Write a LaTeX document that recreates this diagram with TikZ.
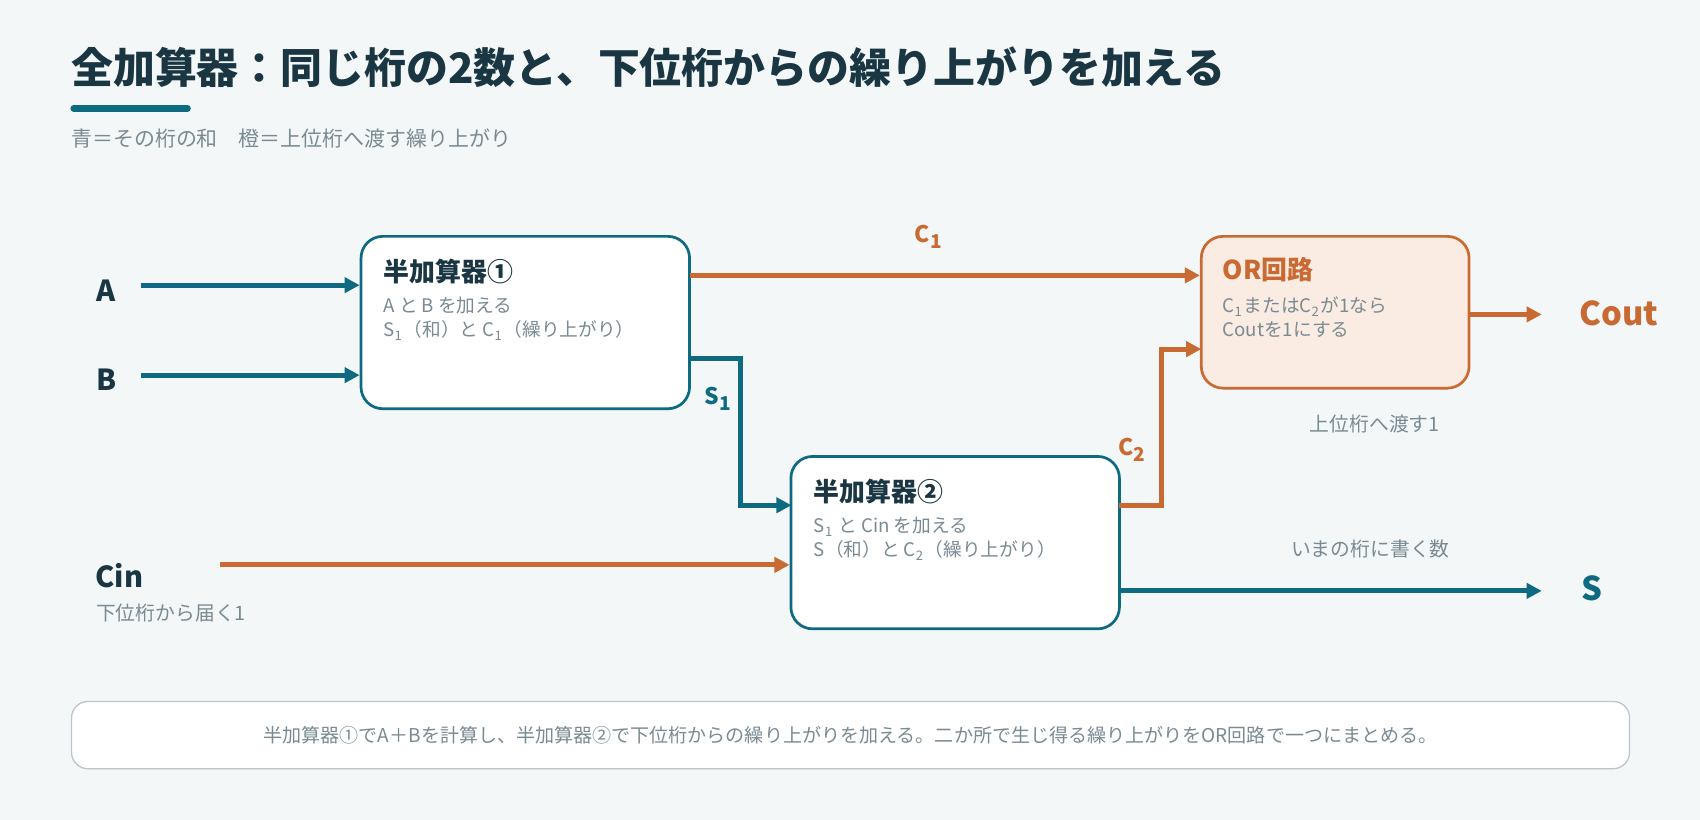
\documentclass[tikz,border=0pt]{standalone}
\usepackage{fontspec}
\setmainfont{Noto Sans CJK JP}
\usetikzlibrary{positioning,arrows.meta}
\definecolor{teal}{HTML}{0E6A80}
\definecolor{orng}{HTML}{C96A32}
\definecolor{ink}{HTML}{1A3642}
\definecolor{gry}{HTML}{7A8A92}
\definecolor{bg}{HTML}{F3F7F8}
\definecolor{peach}{HTML}{FBECE3}
\tikzset{
  blk/.style={rectangle, rounded corners=0.2cm, line width=0.025cm, minimum width=3.03cm, minimum height=1.59cm, fill=white, draw=teal},
  wire/.style={line width=0.045cm, -{Triangle[length=0.14cm,width=0.14cm]}},
  ttl/.style={font=\fontsize{6.8}{8}\selectfont\bfseries, anchor=west, inner sep=0},
  body/.style={font=\fontsize{4.9}{6.3}\selectfont, text=gry, anchor=north west, align=left, inner sep=0},
  pin/.style={font=\fontsize{7.6}{9}\selectfont\bfseries, text=ink},
  note/.style={font=\fontsize{5.2}{6}\selectfont, text=gry}
}
\begin{document}
\begin{tikzpicture}[x=1cm,y=1cm]
  \fill[bg] (0,0) rectangle (15.68,-7.56);
  \useasboundingbox (0,0) rectangle (15.68,-7.56);
  % Title
  \node[font=\fontsize{11}{13}\selectfont\bfseries, text=ink, anchor=west, inner sep=0] (title) at (0.65,-0.62) {全加算器：同じ桁の2数と、下位桁からの繰り上がりを加える};
  \draw[teal, line width=0.06cm, line cap=round] (0.68,-1.0) -- (1.73,-1.0);
  \node[note, font=\fontsize{5.5}{6}\selectfont, anchor=west, inner sep=0] (sub) at (0.65,-1.28) {青＝その桁の和　橙＝上位桁へ渡す繰り上がり};
  % Blocks
  \node[blk] (ha1) at (4.845,-2.975) {};
  \node[blk] (ha2) at (8.81,-5.005) {};
  \node[blk, draw=orng, fill=peach, minimum width=2.47cm, minimum height=1.40cm] (or) at (12.315,-2.88) {};
  \node[ttl, text=ink] at (3.53,-2.50) {半加算器①};
  \node[body] at (3.53,-2.73) {A と B を加える\\S\textsubscript{1}（和）と C\textsubscript{1}（繰り上がり）};
  \node[ttl, text=ink] at (7.50,-4.53) {半加算器②};
  \node[body] at (7.50,-4.76) {S\textsubscript{1} と Cin を加える\\S（和）と C\textsubscript{2}（繰り上がり）};
  \node[ttl, text=orng] at (11.27,-2.49) {OR回路};
  \node[body] at (11.27,-2.73) {C\textsubscript{1}またはC\textsubscript{2}が1なら\\Coutを1にする};
  % Inputs
  \node[pin] (a) at (0.98,-2.68) {A};
  \node[pin] (b) at (0.98,-3.50) {B};
  \node[pin] (cin) at (1.10,-5.31) {Cin};
  \node[note, anchor=west, inner sep=0] (cinnote) at (0.88,-5.65) {下位桁から届く1};
  \coordinate (ain) at (1.30,-2.63);
  \coordinate (bin) at (1.30,-3.46);
  \coordinate (cinin) at (2.03,-5.21);
  \draw[wire, teal] (ain) -- (ain -| ha1.west);
  \draw[wire, teal] (bin) -- (bin -| ha1.west);
  \draw[wire, orng] (cinin) -- (cinin -| ha2.west);
  % Internal wires
  \coordinate (c1) at (6.36,-2.54);
  \draw[wire, orng] (c1) -- (c1 -| or.west);
  \node[font=\fontsize{6}{7}\selectfont\bfseries, text=orng] at (8.57,-2.18) {C\textsubscript{1}};
  \coordinate (s1) at (6.36,-3.31);
  \draw[wire, teal] (s1) -- (6.83,-3.31) -- (6.83,-4.66) -- (7.30,-4.66);
  \node[font=\fontsize{6}{7}\selectfont\bfseries, text=teal] at (6.63,-3.68) {S\textsubscript{1}};
  \coordinate (c2) at (10.32,-4.66);
  \draw[wire, orng] (c2) -- (10.71,-4.66) -- (10.71,-3.22) -- (11.08,-3.22);
  \node[font=\fontsize{6}{7}\selectfont\bfseries, text=orng] at (10.45,-4.15) {C\textsubscript{2}};
  % Outputs
  \node[pin, text=orng, font=\fontsize{8.6}{10}\selectfont\bfseries] (cout) at (14.93,-2.89) {Cout};
  \node[pin, text=teal, font=\fontsize{8.6}{10}\selectfont\bfseries] (s) at (14.68,-5.43) {S};
  \draw[wire, orng] (or.east |- 0,-2.90) -- (14.22,-2.90);
  \draw[wire, teal] (10.32,-5.45) -- (14.22,-5.45);
  \node[note] at (12.68,-3.91) {上位桁へ渡す1};
  \node[note] at (12.64,-5.06) {いまの桁に書く数};
  % Footer
  \node[rectangle, rounded corners=0.15cm, draw=gry!50, line width=0.012cm, fill=white, minimum width=14.37cm, minimum height=0.62cm] (foot) at (7.845,-6.78) {};
  \node[note, font=\fontsize{5.0}{6}\selectfont] at (foot) {半加算器①でA＋Bを計算し、半加算器②で下位桁からの繰り上がりを加える。二か所で生じ得る繰り上がりをOR回路で一つにまとめる。};
\end{tikzpicture}
\end{document}
